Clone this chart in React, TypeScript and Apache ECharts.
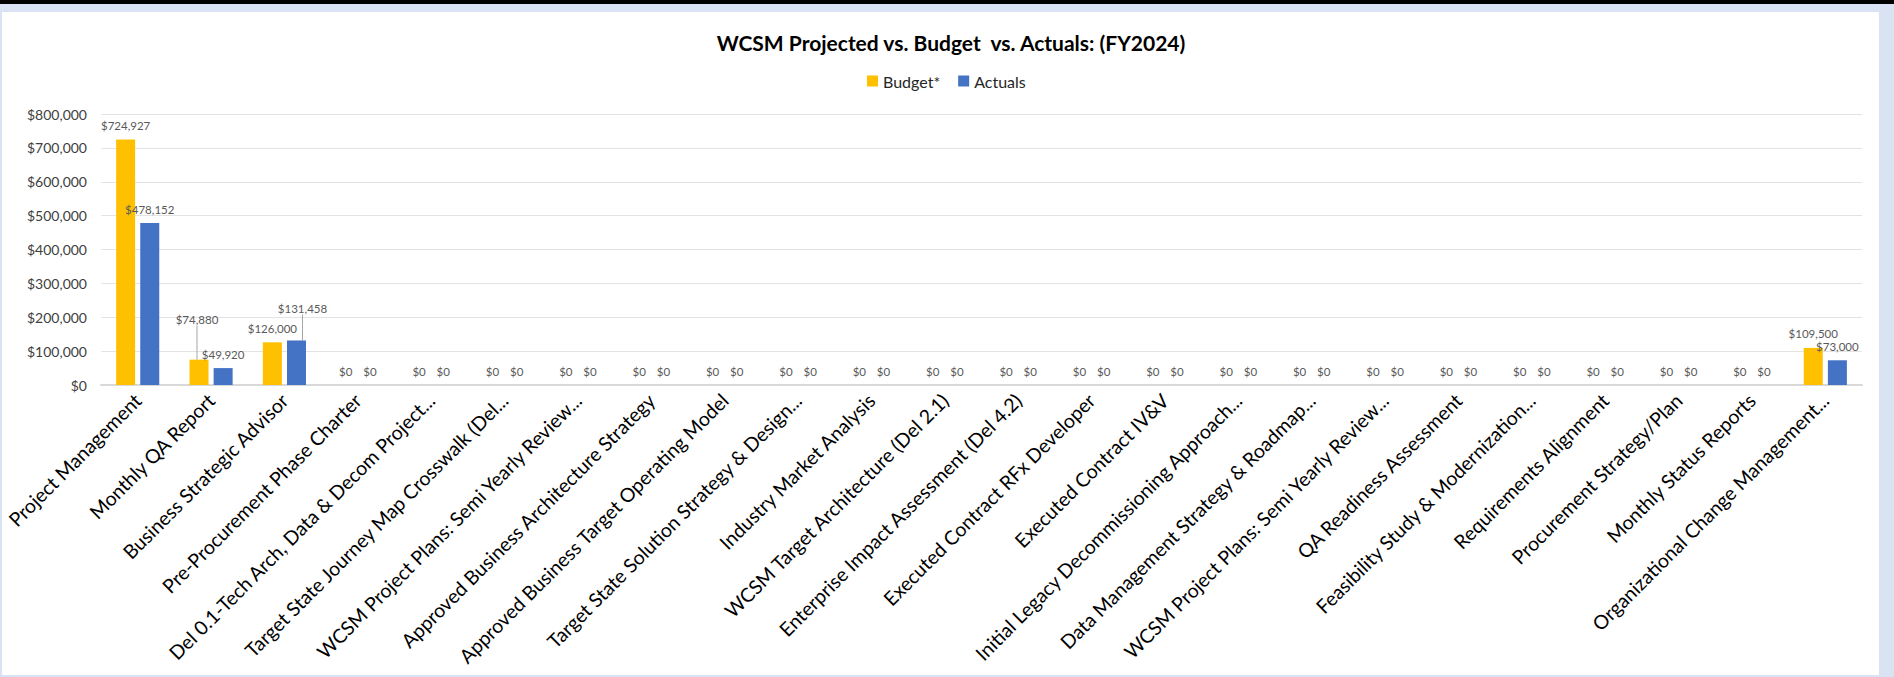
import React, { useEffect, useRef } from "react";
import * as echarts from "echarts";

const categories = [
  "Project Management",
  "Monthly QA Report",
  "Business Strategic Advisor",
  "Pre-Procurement Phase Charter",
  "Del 0.1-Tech Arch, Data & Decom Project...",
  "Target State Journey Map Crosswalk (Del...",
  "WCSM Project Plans: Semi Yearly Review...",
  "Approved Business Architecture Strategy",
  "Approved Business Target Operating Model",
  "Target State Solution Strategy & Design...",
  "Industry Market Analysis",
  "WCSM Target Architecture (Del 2.1)",
  "Enterprise Impact Assessment (Del 4.2)",
  "Executed Contract RFx Developer",
  "Executed Contract IV&V",
  "Initial Legacy Decommissioning Approach...",
  "Data Management Strategy & Roadmap...",
  "WCSM Project Plans: Semi Yearly Review...",
  "QA Readiness Assessment",
  "Feasibility Study & Modernization...",
  "Requirements Alignment",
  "Procurement Strategy/Plan",
  "Monthly Status Reports",
  "Organizational Change Management...",
];

const budget = [724927, 74880, 126000, 0, 0, 0, 0, 0, 0, 0, 0, 0, 0, 0, 0, 0, 0, 0, 0, 0, 0, 0, 0, 109500];
const actuals = [478152, 49920, 131458, 0, 0, 0, 0, 0, 0, 0, 0, 0, 0, 0, 0, 0, 0, 0, 0, 0, 0, 0, 0, 73000];

const yTicks = { min: 0, max: 800000, interval: 100000 };

// labels moved off the bar (index -> [dx, dy])
const budgetMoved: Record<number, [number, number]> = { 1: [-2, -26] };
const actualsMoved: Record<number, [number, number]> = { 2: [6, -18] };

const FONT = "Lato, 'Liberation Sans', sans-serif";
const money = (v: number) => "$" + Math.round(v).toLocaleString("en-US");

export default function App() {
  const ref = useRef<HTMLDivElement>(null);
  useEffect(() => {
    document.body.style.margin = "0";
    const chart = echarts.init(ref.current!, null, { renderer: "svg" });
    const mkData = (vals: number[], moved: Record<number, [number, number]>) =>
      vals.map((v, i) =>
        moved[i]
          ? { value: v, labelLine: { show: true, lineStyle: { color: "#A6A6A6", width: 1 } } }
          : v
      );
    const labelCfg = {
      show: true,
      position: "top",
      distance: 8,
      color: "#595959",
      fontSize: 11.5,
      fontFamily: FONT,
      formatter: (p: any) => money(p.value),
    };
    chart.setOption({
      animation: false,
      backgroundColor: "#DAE3F3",
      graphic: [
        { type: "rect", shape: { x: 0, y: 0, width: 1894, height: 4 }, style: { fill: "#000" }, z: -10 },
        { type: "rect", shape: { x: 2, y: 12, width: 1877, height: 663 }, style: { fill: "#fff" }, z: -10 },
      ],
      title: {
        text: "WCSM Projected vs. Budget  vs. Actuals: (FY2024)",
        left: 946,
        textAlign: "center",
        top: 27,
        textStyle: { fontFamily: FONT, fontWeight: "bold", fontSize: 21, color: "#000" },
      },
      legend: {
        top: 68,
        left: 862,
        itemWidth: 11,
        itemHeight: 11,
        itemGap: 18,
        icon: "rect",
        textStyle: { fontFamily: FONT, fontSize: 16, color: "#262626" },
        data: ["Budget*", "Actuals"],
      },
      grid: { left: 101, right: 32, top: 114, bottom: 292, outerBoundsMode: "none", containLabel: false },
      xAxis: {
        type: "category",
        data: categories,
        axisLine: { lineStyle: { color: "#D9D9D9", width: 2 } },
        axisTick: { show: false },
        axisLabel: {
          interval: 0,
          rotate: 45,
          margin: 12,
          fontFamily: FONT,
          fontSize: 19.5,
          color: "#000",
        },
      },
      yAxis: {
        type: "value",
        min: yTicks.min,
        max: yTicks.max,
        interval: yTicks.interval,
        axisLine: { show: false },
        axisTick: { show: false },
        splitLine: { lineStyle: { color: "#E3E3E3", width: 1 } },
        axisLabel: {
          formatter: (v: number) => money(v),
          fontFamily: FONT,
          fontSize: 14,
          color: "#404040",
          margin: 14,
        },
      },
      series: [
        {
          name: "Budget*",
          type: "bar",
          data: mkData(budget, budgetMoved),
          barWidth: 19,
          barGap: "27%",
          itemStyle: { color: "#FFC000" },
          label: labelCfg,
          labelLayout: (p: any) => {
            const m = budgetMoved[p.dataIndex];
            return m ? { dx: m[0], dy: m[1] } : {};
          },
        },
        {
          name: "Actuals",
          type: "bar",
          data: mkData(actuals, actualsMoved),
          barWidth: 19,
          barGap: "27%",
          itemStyle: { color: "#4472C4" },
          label: labelCfg,
          labelLayout: (p: any) => {
            const m = actualsMoved[p.dataIndex];
            return m ? { dx: m[0], dy: m[1] } : {};
          },
        },
      ],
    });
    return () => chart.dispose();
  }, []);
  return <div ref={ref} style={{ width: 1894, height: 677, position: "absolute", left: 0, top: 0 }} />;
}
